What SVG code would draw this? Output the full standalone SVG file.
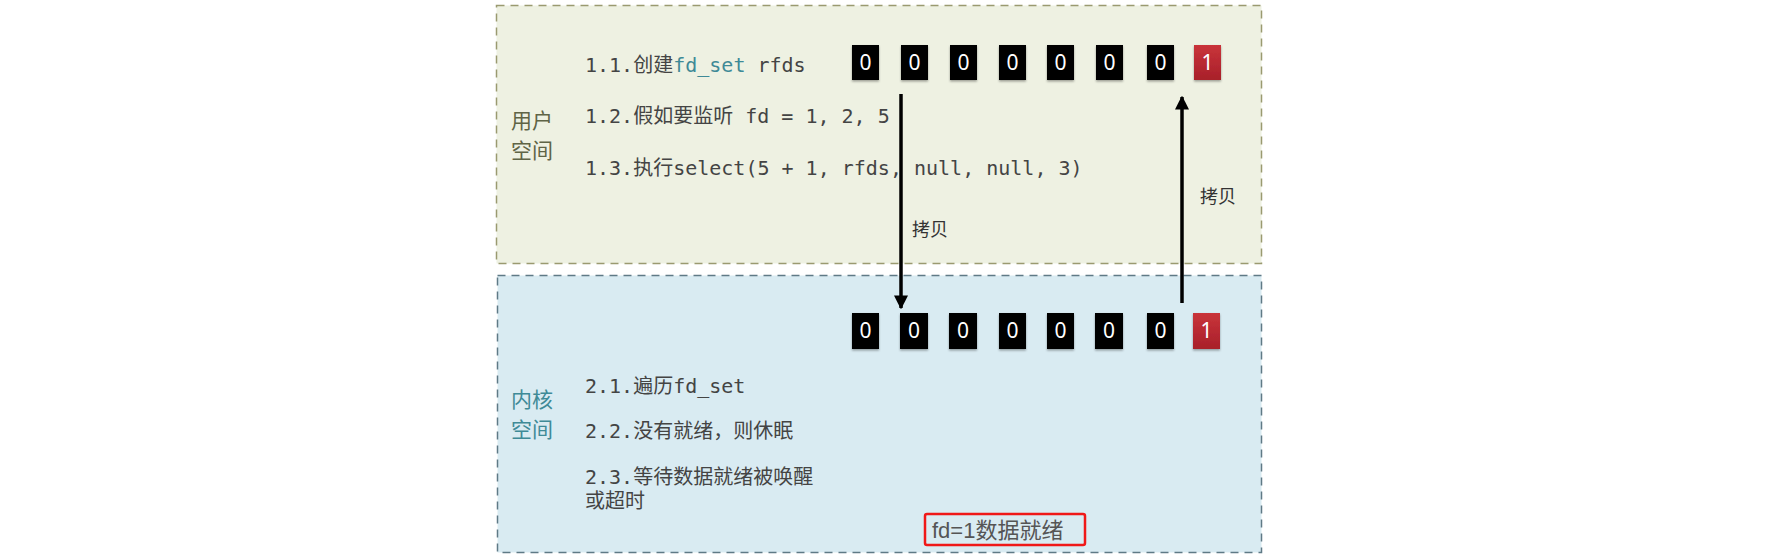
<svg xmlns="http://www.w3.org/2000/svg" width="1782" height="559" viewBox="0 0 1782 559">
<defs>
<style>
.mono{font-family:"DejaVu Sans Mono","Noto Sans CJK SC",monospace;font-size:20px;fill:#444}
.side{font-family:"Noto Sans CJK SC",sans-serif;font-size:21px}
.cell{fill:#050505}
.red{fill:url(#redg)}
.digit{font-family:"Noto Sans","DejaVu Sans",sans-serif;font-size:21px;fill:#fff;text-anchor:middle}
.lbl{font-family:"Noto Sans CJK SC",sans-serif;font-size:18px;fill:#333}
.arrow{stroke:#000;stroke-width:3.5;fill:none}
</style>
<linearGradient id="redg" x1="0" y1="0" x2="0" y2="1">
<stop offset="0" stop-color="#c9343a"/>
<stop offset="1" stop-color="#a8202a"/>
</linearGradient>
<filter id="sh" x="-20%" y="-20%" width="140%" height="150%">
<feDropShadow dx="0" dy="1.5" stdDeviation="1.2" flood-color="#000" flood-opacity="0.35"/>
</filter>
<marker id="ah" viewBox="0 0 10 10" refX="9" refY="5" markerWidth="4" markerHeight="4" orient="auto" markerUnits="strokeWidth">
<path d="M0,0 L10,5 L0,10 z" fill="#000"/>
</marker>
</defs>
<rect width="1782" height="559" fill="#fff"/>

<g id="user-space">
<rect x="496.5" y="5.5" width="765" height="258" fill="#eef1e2" stroke="#9a9a70" stroke-width="1.5" stroke-dasharray="8 6"/>
<text class="side" x="511" y="128" fill="#5f6446">用户</text>
<text class="side" x="511" y="158" fill="#5f6446">空间</text>
<text class="mono" x="585" y="72">1.1.创建<tspan fill="#3f8a97">fd_set</tspan> rfds</text>
<text class="mono" x="585" y="123">1.2.假如要监听 fd = 1, 2, 5</text>
<text class="mono" x="585" y="175">1.3.执行select(5 + 1, rfds, null, null, 3)</text>
</g>

<g id="kernel-space">
<rect x="497.5" y="275.5" width="764" height="277" fill="#d9ebf2" stroke="#5f7a86" stroke-width="1.5" stroke-dasharray="8 6"/>
<text class="side" x="511" y="407" fill="#3f8a97">内核</text>
<text class="side" x="511" y="437" fill="#3f8a97">空间</text>
<text class="mono" x="585" y="393">2.1.遍历fd_set</text>
<text class="mono" x="585" y="438">2.2.没有就绪，则休眠</text>
<text class="mono" x="585" y="484">2.3.等待数据就绪被唤醒</text>
<text class="mono" x="585" y="508">或超时</text>
</g>

<g id="user-bits" filter="url(#sh)">
<rect class="cell" x="852" y="45" width="27" height="35"/>
<rect class="cell" x="901" y="45" width="27" height="35"/>
<rect class="cell" x="950" y="45" width="27" height="35"/>
<rect class="cell" x="999" y="45" width="27" height="35"/>
<rect class="cell" x="1047" y="45" width="27" height="35"/>
<rect class="cell" x="1096" y="45" width="27" height="35"/>
<rect class="cell" x="1147" y="45" width="27" height="35"/>
<rect class="red" x="1194" y="45" width="27" height="35"/>
</g>
<g id="user-bit-labels">
<text class="digit" x="865.5" y="70">0</text>
<text class="digit" x="914.5" y="70">0</text>
<text class="digit" x="963.5" y="70">0</text>
<text class="digit" x="1012.5" y="70">0</text>
<text class="digit" x="1060.5" y="70">0</text>
<text class="digit" x="1109.5" y="70">0</text>
<text class="digit" x="1160.5" y="70">0</text>
<text class="digit" x="1207.5" y="70">1</text>
</g>

<g id="kernel-bits" filter="url(#sh)">
<rect class="cell" x="852" y="313" width="27" height="36"/>
<rect class="cell" x="900" y="313" width="28" height="36"/>
<rect class="cell" x="949" y="313" width="28" height="36"/>
<rect class="cell" x="999" y="313" width="27" height="36"/>
<rect class="cell" x="1047" y="313" width="27" height="36"/>
<rect class="cell" x="1095" y="313" width="28" height="36"/>
<rect class="cell" x="1147" y="313" width="27" height="36"/>
<rect class="red" x="1193" y="313" width="27" height="36"/>
</g>
<g id="kernel-bit-labels">
<text class="digit" x="865.5" y="338">0</text>
<text class="digit" x="914" y="338">0</text>
<text class="digit" x="963" y="338">0</text>
<text class="digit" x="1012.5" y="338">0</text>
<text class="digit" x="1060.5" y="338">0</text>
<text class="digit" x="1109" y="338">0</text>
<text class="digit" x="1160.5" y="338">0</text>
<text class="digit" x="1206.5" y="338">1</text>
</g>

<g id="connectors">
<line class="arrow" x1="901" y1="94" x2="901" y2="308" marker-end="url(#ah)"/>
<line class="arrow" x1="1182" y1="303" x2="1182" y2="97" marker-end="url(#ah)"/>
<text class="lbl" x="912" y="236">拷贝</text>
<text class="lbl" x="1200" y="203">拷贝</text>
</g>

<g id="ready-note">
<rect x="925" y="514" width="160" height="31" rx="2" fill="none" stroke="#f01818" stroke-width="2.5"/>
<text x="932" y="538" font-family="'Liberation Sans','Noto Sans CJK SC',sans-serif" font-size="22" fill="#555">fd=1数据就绪</text>
</g>
</svg>
